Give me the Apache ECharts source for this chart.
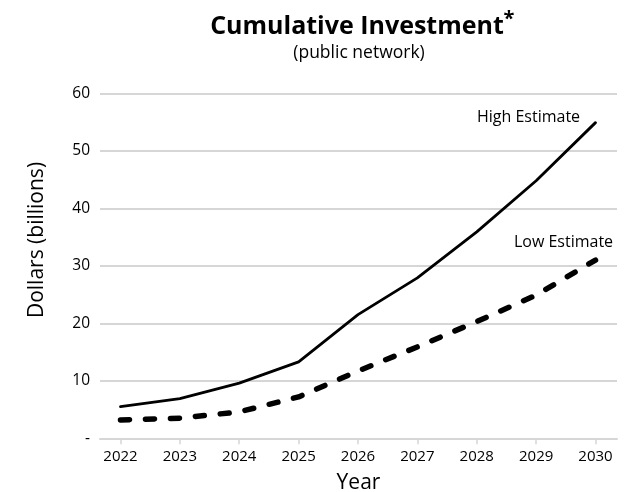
<!DOCTYPE html>
<html>
<head>
<meta charset="utf-8">
<script src="https://cdn.jsdelivr.net/npm/echarts@6/dist/echarts.min.js"></script>
<style>
  html, body { margin: 0; padding: 0; background: #fff; }
  #chart { width: 633px; height: 492px; }
</style>
</head>
<body>
<div id="chart"></div>
<script>
// Projected cumulative investment in the public network, billions of dollars
const years = [2022, 2023, 2024, 2025, 2026, 2027, 2028, 2029, 2030];
const highEstimate = [5.5, 6.9, 9.6, 13.3, 21.5, 27.9, 35.9, 44.8, 54.9];
const lowEstimate = [3.2, 3.5, 4.6, 7.2, 11.7, 15.9, 20.3, 24.9, 31.0];
const yTicks = [0, 10, 20, 30, 40, 50, 60];

const FONT = '"Open Sans", "Noto Sans", sans-serif';

function pairs(values) {
  return values.map((v, i) => [years[i], v]);
}

function endLabel(name, offset) {
  return {
    show: true,
    formatter: name,
    align: 'center',
    verticalAlign: 'middle',
    distance: 0,
    offset: offset,
    color: '#000',
    fontFamily: FONT,
    fontSize: 16
  };
}

const chart = echarts.init(document.getElementById('chart'), null, { renderer: 'canvas' });

chart.setOption({
  animation: false,
  backgroundColor: '#fff',
  graphic: [
    {
      type: 'text',
      style: {
        x: 357, y: 27,
        text: 'Cumulative Investment',
        textAlign: 'center', textVerticalAlign: 'middle',
        font: 'bold 25px ' + FONT,
        fill: '#000'
      }
    },
    {
      type: 'text',
      style: {
        x: 509, y: 19,
        text: '*',
        textAlign: 'center', textVerticalAlign: 'middle',
        font: 'bold 20px ' + FONT,
        fill: '#000'
      }
    },
    {
      type: 'text',
      style: {
        x: 359, y: 53,
        text: '(public network)',
        textAlign: 'center', textVerticalAlign: 'middle',
        font: '17.5px ' + FONT,
        fill: '#000'
      }
    },
    {
      type: 'text',
      x: 37, y: 240,
      rotation: Math.PI / 2,
      style: {
        x: 0, y: 0,
        text: 'Dollars (billions)',
        textAlign: 'center', textVerticalAlign: 'middle',
        font: '21px ' + FONT,
        fill: '#000'
      }
    }
  ],
  grid: {
    left: 100, right: 16, top: 93.3, bottom: 53.7,
    containLabel: false,
    outerBoundsMode: 'none'
  },
  xAxis: {
    type: 'value',
    min: 2021.655,
    max: 2030.362,
    name: 'Year',
    nameLocation: 'middle',
    nameGap: 34,
    nameTextStyle: { fontFamily: FONT, fontSize: 21, color: '#000' },
    axisLine: { lineStyle: { color: '#d6d6d6', width: 2 } },
    axisTick: { show: true, customValues: years, length: 6, lineStyle: { color: '#d6d6d6', width: 1.5 } },
    axisLabel: {
      customValues: years,
      formatter: v => String(v),
      fontFamily: FONT, fontSize: 15, color: '#000', margin: 11
    },
    splitLine: { show: false }
  },
  yAxis: {
    type: 'value',
    min: 0, max: 60, interval: 10,
    axisLine: { show: false },
    axisTick: { show: false },
    axisLabel: {
      formatter: v => (v === yTicks[0] ? '-' : String(v)),
      fontFamily: FONT, fontSize: 15.5, color: '#000', margin: 10
    },
    splitLine: { lineStyle: { color: '#d6d6d6', width: 2 } }
  },
  series: [
    {
      name: 'High Estimate',
      type: 'line',
      data: pairs(highEstimate),
      symbol: 'none',
      lineStyle: { color: '#000', width: 2.8, cap: 'round', join: 'round' },
      endLabel: endLabel('High Estimate', [-67, -5]),
      z: 3
    },
    {
      name: 'Low Estimate',
      type: 'line',
      data: pairs(lowEstimate),
      symbol: 'none',
      lineStyle: { color: '#000', width: 5.5, type: [9, 16], cap: 'round', join: 'round' },
      endLabel: endLabel('Low Estimate', [-32, -18]),
      z: 3
    }
  ]
});
</script>
</body>
</html>
